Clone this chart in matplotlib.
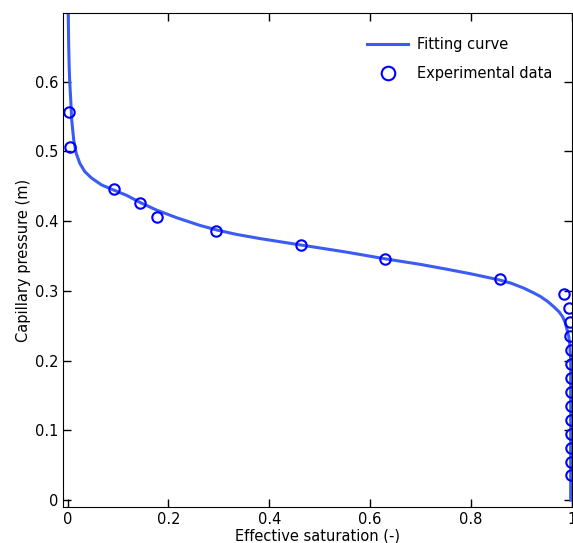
import numpy as np
import matplotlib
matplotlib.use("Agg")
import matplotlib.pyplot as plt
from matplotlib.ticker import FormatStrFormatter

sat_exp = [0.002, 0.005, 0.092, 0.143, 0.177, 0.294, 0.462, 0.630, 0.857, 0.985,
           0.995, 0.996, 0.997, 0.998, 0.998, 0.998, 0.998, 0.998, 0.998, 0.998,
           0.998, 0.998, 0.998]
pc_exp = [0.557, 0.506, 0.446, 0.426, 0.406, 0.386, 0.366, 0.346, 0.317, 0.295,
          0.275, 0.255, 0.235, 0.215, 0.195, 0.175, 0.155, 0.135, 0.115, 0.095,
          0.075, 0.055, 0.036]

# fitting curve
sat_fit = [0.001, 0.002, 0.003, 0.004, 0.006, 0.008, 0.012, 0.017, 0.024, 0.034,
           0.047, 0.067, 0.090, 0.117, 0.143, 0.176, 0.216, 0.262, 0.295, 0.335,
           0.382, 0.461, 0.550, 0.630, 0.700, 0.753, 0.800, 0.855, 0.880, 0.905,
           0.925, 0.938, 0.952, 0.965, 0.975, 0.982, 0.987, 0.991, 0.994, 0.996,
           0.997, 0.998, 0.998]
pc_fit = [0.700, 0.650, 0.620, 0.600, 0.574, 0.545, 0.516, 0.497, 0.483, 0.471,
          0.462, 0.452, 0.445, 0.437, 0.427, 0.416, 0.405, 0.394, 0.3875, 0.381,
          0.375, 0.366, 0.356, 0.346, 0.338, 0.331, 0.3245, 0.316, 0.311, 0.304,
          0.297, 0.292, 0.285, 0.277, 0.270, 0.263, 0.255, 0.244, 0.235, 0.225,
          0.213, 0.201, 0.000]

xticks = [0, 0.2, 0.4, 0.6, 0.8, 1.0]
yticks = [0, 0.1, 0.2, 0.3, 0.4, 0.5, 0.6]

fig = plt.figure(figsize=(5.73, 5.43), dpi=100)
ax = fig.add_axes([0.1105, 0.0663, 0.8872, 0.9092])

ax.plot(sat_fit, pc_fit, color="#3b5cf2", linewidth=2.2, label="Fitting curve",
        solid_joinstyle="round")
ax.plot(sat_exp, pc_exp, linestyle="none", marker="o", markersize=7.5,
        markerfacecolor="none", markeredgecolor="#0000ff", markeredgewidth=1.5,
        label="Experimental data")

ax.set_xlim(-0.0087, 1.0)
ax.set_ylim(-0.0098, 0.698)
ax.set_xticks(xticks)
ax.set_yticks(yticks)
ax.xaxis.set_major_formatter(FormatStrFormatter("%g"))
ax.yaxis.set_major_formatter(FormatStrFormatter("%g"))
ax.tick_params(direction="in", top=True, right=True, length=6, width=1,
               labelsize=10.5)

ax.set_xlabel("Effective saturation (-)", fontsize=10.5, labelpad=1)
ax.set_ylabel("Capillary pressure (m)", fontsize=10.5, labelpad=3)

ax.legend(loc="upper right", bbox_to_anchor=(0.988, 0.979), frameon=False,
          fontsize=10.5, handlelength=2.8, handletextpad=0.6, labelspacing=0.95,
          markerscale=1.3)

plt.savefig("out.png", dpi=100)
plt.close()
